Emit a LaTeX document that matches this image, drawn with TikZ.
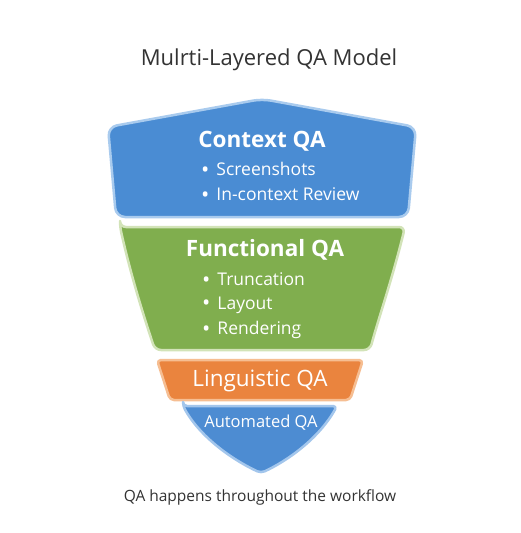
\documentclass[tikz,border=0pt]{standalone}
\usepackage{fontspec}
\setmainfont{Open Sans}
\definecolor{ctxblue}{HTML}{4A8CD3}
\definecolor{ctxedge}{HTML}{A9CBEE}
\definecolor{fgreen}{HTML}{80AE4E}
\definecolor{fedge}{HTML}{D2E3B8}
\definecolor{lorange}{HTML}{EA843E}
\definecolor{ledge}{HTML}{F6BE92}
\definecolor{ablue}{HTML}{4D8CD2}
\definecolor{aedge}{HTML}{A3C6EC}
\definecolor{txt}{HTML}{333333}
\newcommand{\bul}{{\fontsize{22}{22}\selectfont\raisebox{-1.5pt}{\textbullet}}\hspace{7pt}}
\tikzset{
  layer/.style={line width=2.5pt, line join=round},
  head/.style={text=white, font=\bfseries\fontsize{22.5}{26}\selectfont, inner sep=0pt},
  item/.style={text=white, font=\fontsize{17.5}{21}\selectfont, inner sep=0pt, anchor=west},
  caption/.style={text=txt, inner sep=0pt}
}
\begin{document}
\begin{tikzpicture}[x=1pt,y=-1pt]
\useasboundingbox (0,0) rectangle (521,533);
\fill[white] (0,0) rectangle (521,533);
% title
\node[caption, font=\fontsize{22}{26}\selectfont] (title) at (269,60) {Mulrti-Layered QA Model};
% context layer
\draw[layer, fill=ctxblue, draw=ctxedge, rounded corners=9pt]
  (108,127) -- (262,99) -- (416,127) -- (408,217) -- (116,217) -- cycle;
\node[head] (ctx) at (262,141) {Context QA};
\node[item] (ctx1) at (201,170) {\bul Screenshots};
\node[item] (ctx2) at (201,195) {\bul In-context Review};
% functional layer
\draw[layer, fill=fgreen, draw=fedge, rounded corners=6pt]
  (120,227) -- (405,227) .. controls (392,280) and (378,320) .. (370,350) -- (155,350) .. controls (145,320) and (132,280) .. (120,227) -- cycle;
\node[head] (fun) at (265,250) {Functional QA};
\node[item] (fun1) at (202,280) {\bul Truncation};
\node[item] (fun2) at (202,305) {\bul Layout};
\node[item] (fun3) at (202,330) {\bul Rendering};
% linguistic layer
\draw[layer, fill=lorange, draw=ledge, rounded corners=4pt]
  (157,360) -- (363,360) -- (350,400) -- (170,400) -- cycle;
\node[text=white, inner sep=0pt, font=\fontsize{22.5}{26}\selectfont] (lin) at (260,381) {Linguistic QA};
% automated layer
\draw[layer, fill=ablue, draw=aedge, rounded corners=4pt]
  (183,406) -- (337,406) .. controls (318,440) and (285,462) .. (261,473) .. controls (237,462) and (202,440) .. (183,406) -- cycle;
\node[text=white, inner sep=0pt, font=\fontsize{16.5}{20}\selectfont] (aut) at (261,423) {Automated QA};
% footer
\node[caption, font=\fontsize{15.5}{19}\selectfont] (foot) at (260,497) {QA happens throughout the workflow};
\end{tikzpicture}
\end{document}
